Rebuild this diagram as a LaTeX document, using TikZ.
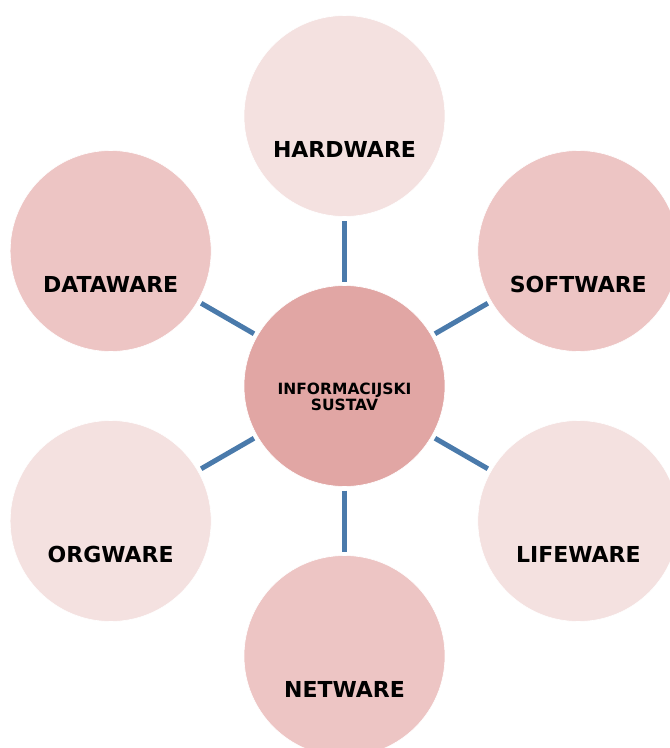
\documentclass[tikz,border=0pt]{standalone}
\usepackage{fontspec}
\setmainfont{DejaVu Sans}
\definecolor{petallight}{HTML}{F4E1E0}
\definecolor{petalmid}{HTML}{EDC5C4}
\definecolor{hubfill}{HTML}{E1A6A4}
\definecolor{linkblue}{HTML}{4A7AAB}
\tikzset{
  petal/.style={circle, minimum size=201pt, inner sep=0pt, outer sep=0pt, draw=white, line width=0.6pt},
  petaltext/.style={font=\bfseries\fontsize{22}{26}\selectfont, inner sep=0pt},
  link/.style={draw=linkblue, line width=5pt, shorten <=4pt, shorten >=4pt}
}
\begin{document}
\begin{tikzpicture}[x=1pt,y=1pt]
        \useasboundingbox (-344.5,-362) rectangle (325.5,386);
        \node[petal, fill=hubfill] (hub) at (0,0) {};
        \node[font=\bfseries\fontsize{15.5}{16.5}\selectfont, align=center, inner sep=0pt] (hubtext) at (0,-11) {INFORMACIJSKI\\SUSTAV};
        \foreach \ang/\name/\txt/\col in {90/hw/HARDWARE/petallight, 30/sw/SOFTWARE/petalmid, -30/lw/LIFEWARE/petallight, -90/nw/NETWARE/petalmid, -150/ow/ORGWARE/petallight, 150/dw/DATAWARE/petalmid}
        {
            \node[petal, fill=\col] (\name) at (\ang:270) {};
            \node[petaltext] (\name text) at ([yshift=-33pt]\name.center) {\txt};
            \draw[link] (hub) -- (\name);
        }
\end{tikzpicture}
\end{document}
